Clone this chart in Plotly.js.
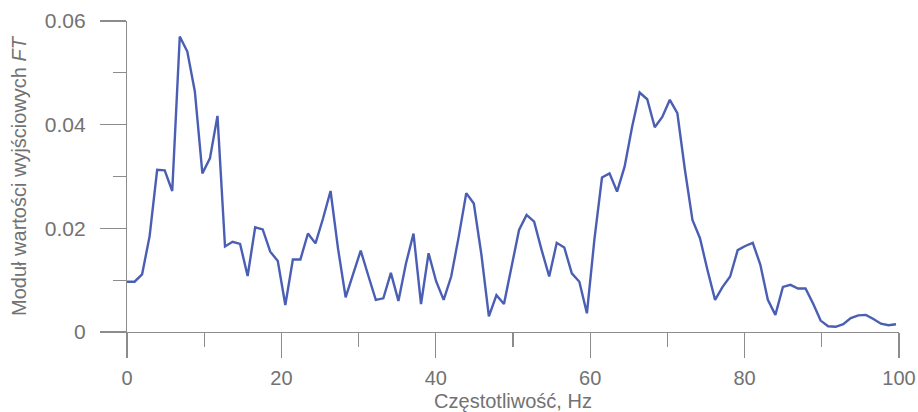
<!DOCTYPE html>
<html>
<head>
<meta charset="utf-8">
<script src="https://cdn.plot.ly/plotly-3.0.1.min.js"></script>
<style>html,body{margin:0;padding:0;background:#fff;}#chart{width:918px;height:412px;}</style>
</head>
<body>
<div id="chart"></div>
<script>
// Frequency bins: start and step (Hz) of the spectrum samples
const freqStart = 0;
const freqStep = 0.9766;
// |FT| of the output values, one per frequency bin
const amplitude = [
  0.0097, 0.0097, 0.0111, 0.0185, 0.0313, 0.0312, 0.0272, 0.0570, 0.0541, 0.0464,
  0.0306, 0.0335, 0.0417, 0.0165, 0.0174, 0.0170, 0.0108, 0.0202, 0.0198, 0.0155,
  0.0137, 0.0052, 0.0140, 0.0140, 0.0190, 0.0171, 0.0219, 0.0272, 0.0160, 0.0067,
  0.0112, 0.0157, 0.0109, 0.0062, 0.0065, 0.0114, 0.0060, 0.0132, 0.0190, 0.0054,
  0.0152, 0.0098, 0.0062, 0.0107, 0.0184, 0.0268, 0.0248, 0.0150, 0.0030, 0.0071,
  0.0054, 0.0126, 0.0197, 0.0226, 0.0213, 0.0158, 0.0107, 0.0172, 0.0163, 0.0113,
  0.0097, 0.0036, 0.0179, 0.0298, 0.0306, 0.0271, 0.0319, 0.0396, 0.0462, 0.0449,
  0.0395, 0.0415, 0.0448, 0.0422, 0.0313, 0.0216, 0.0181, 0.0119, 0.0062, 0.0087,
  0.0107, 0.0158, 0.0166, 0.0172, 0.0130, 0.0062, 0.0033, 0.0087, 0.0091, 0.0084,
  0.0084, 0.0055, 0.0022, 0.0011, 0.0010, 0.0015, 0.0027, 0.0032, 0.0033, 0.0025,
  0.0016, 0.0013, 0.0015
];
const xTickVals = [0, 20, 40, 60, 80, 100];
const xTickText = ['0', '20', '40', '60', '80', '100'];
const yTickVals = [0, 0.02, 0.04, 0.06];
const yTickText = ['0', '0.02', '0.04', '0.06'];
const xTitle = 'Częstotliwość, Hz';
const yTitle = 'Moduł wartości wyjściowych <i>FT</i>';

const axisGray = '#8c8c8c';
const textGray = '#727272';
const font = 'Liberation Sans, Arial, sans-serif';

const trace = {
  type: 'scatter',
  mode: 'lines',
  x0: freqStart,
  dx: freqStep,
  y: amplitude,
  line: {color: 'rgb(74,94,180)', width: 2.4},
  hoverinfo: 'skip'
};

const layout = {
  width: 918,
  height: 412,
  margin: {l: 127, r: 19, t: 21, b: 80},
  paper_bgcolor: '#fff',
  plot_bgcolor: '#fff',
  showlegend: false,
  font: {family: font, color: textGray},
  xaxis: {
    range: [0, 100],
    tickvals: xTickVals,
    ticktext: xTickText,
    ticks: 'outside',
    ticklen: 25,
    tickwidth: 1.2,
    tickcolor: axisGray,
    showline: true,
    linecolor: axisGray,
    linewidth: 1.2,
    showgrid: false,
    zeroline: false,
    tickfont: {size: 20, color: textGray, family: font},
    ticklabelstandoff: 3,
    minor: {dtick: 10, tick0: 0, ticks: 'outside', ticklen: 14, tickcolor: axisGray, tickwidth: 1.2, showgrid: false},
    title: {text: xTitle, font: {size: 20, color: textGray, family: font}, standoff: 5},
    automargin: false
  },
  yaxis: {
    range: [0, 0.06],
    tickvals: yTickVals,
    ticktext: yTickText,
    ticks: 'outside',
    ticklen: 26,
    tickwidth: 1.2,
    tickcolor: axisGray,
    showline: true,
    linecolor: axisGray,
    linewidth: 1.2,
    showgrid: false,
    zeroline: false,
    tickfont: {size: 21, color: textGray, family: font},
    ticklabelstandoff: 10,
    minor: {dtick: 0.01, tick0: 0, ticks: 'outside', ticklen: 13, tickcolor: axisGray, tickwidth: 1.2, showgrid: false},
    title: {text: yTitle, font: {size: 20, color: textGray, family: font}, standoff: 12},
    automargin: false
  }
};

Plotly.newPlot('chart', [trace], layout, {displayModeBar: false, staticPlot: true});
</script>
</body>
</html>
